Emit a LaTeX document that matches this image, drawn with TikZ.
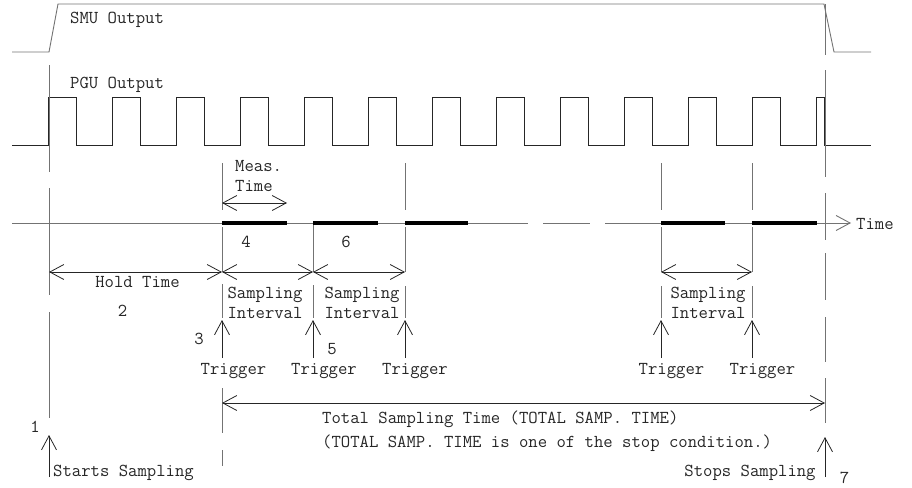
\documentclass[tikz,border=0pt]{standalone}
\usepackage{fontspec}
\usetikzlibrary{arrows.meta}
\begin{document}
\begin{tikzpicture}[x=1pt,y=-1pt,
  lbl/.style={font=\ttfamily\fontsize{18.2}{20}\selectfont, inner sep=0pt, text=black!85},
  wave/.style={line width=0.9pt, black!85},
  grayline/.style={line width=0.9pt, black!55},
  arr/.style={line width=0.8pt, black!85, -{Straight Barb[length=14pt,width=15pt]}},
  darr/.style={line width=0.8pt, black!85, {Straight Barb[length=14pt,width=15pt]}-{Straight Barb[length=14pt,width=15pt]}},
  measbar/.style={line width=4pt, black, line cap=butt},
]
\useasboundingbox (0,0) rectangle (912,487);

% SMU output
\draw[grayline] (12,52) -- (49,52) -- (58,4) -- (824,4) -- (834,52) -- (871,52);
\node[lbl,anchor=base west] (smu) at (70,24) {SMU Output};

% PGU output
\draw[wave] (12,145) foreach \k in {0,...,11} { -- ({48.7+64*\k},145) -- ({48.7+64*\k},97) -- ({76.7+64*\k},97) -- ({76.7+64*\k},145) } -- (816.5,145) -- (816.5,97) -- (824.5,97) -- (824.5,145) -- (871,145);
\node[lbl,anchor=base west] (pgu) at (70,88) {PGU Output};

% start line (x=49)
\foreach \a/\b in {65/172,188/295,312/418} \draw[grayline] (49,\a) -- (49,\b);
% stop line (x=825)
\foreach \a/\b in {4/55,70/177,193/240,253/300,317/362,378/423} \draw[grayline] (825,\a) -- (825,\b);

% line x=222
\foreach \a/\b in {163/210,227/272,284/318,388/433,450/466} \draw[grayline] (222,\a) -- (222,\b);
% line x=313
\foreach \a/\b in {223/272,285/318} \draw[grayline] (313,\a) -- (313,\b);
% lines x=405, 661, 752
\foreach \xx in {405,661,752}
  \foreach \a/\b in {163/210,227/272,286/318} \draw[grayline] (\xx,\a) -- (\xx,\b);

% time axis
\draw[grayline] (12,223) -- (468,223);
\foreach \a/\b in {468/528,543/590,605/660} \draw[grayline] (\a,223) -- (\b,223);
\draw[grayline,-{Straight Barb[length=14pt,width=15pt]}] (660,223) -- (851,223);
\node[lbl,anchor=base west] (time) at (856,229) {Time};

% measurement bars
\foreach \a/\b in {222/287,313/378,405/468,661/725,752/817} \draw[measbar] (\a,223) -- (\b,223);

% dimension arrows
\draw[darr] (222,203) -- (287,203);
\node[lbl,anchor=base west] (meas1) at (235,171) {Meas.};
\node[lbl,anchor=base west] (meas2) at (235,191) {Time};
\node[lbl,anchor=base] (n4) at (246,247) {4};
\node[lbl,anchor=base] (n6) at (346,247) {6};

\draw[darr] (49,272) -- (222,272);
\draw[darr] (222,272) -- (313,272);
\draw[darr] (313,272) -- (405,272);
\draw[darr] (661,272) -- (752,272);
\node[lbl,anchor=base] (hold) at (137.5,287) {Hold Time};
\node[lbl,anchor=base] (n2) at (122.5,316) {2};
\foreach \xx/\nm in {265/a,362/b,708/c} {
  \node[lbl,anchor=base] (si1\nm) at (\xx,298) {Sampling};
  \node[lbl,anchor=base] (si2\nm) at (\xx,318) {Interval};
}

% trigger arrows
\foreach \xx in {222,313,405,661,752} \draw[arr] (\xx,358) -- (\xx,320);
\foreach \xx/\nm in {233.5/a,324/b,415/c,671.5/d,762.5/e}
  \node[lbl,anchor=base] (trig\nm) at (\xx,374) {Trigger};
\node[lbl,anchor=base] (n3) at (199,344) {3};
\node[lbl,anchor=base] (n5) at (332,354) {5};

% total sampling time
\draw[darr] (222,403) -- (825,403);
\node[lbl,anchor=base west] (tot1) at (322,423) {Total Sampling Time (TOTAL SAMP. TIME)};
\node[lbl,anchor=base west] (tot2) at (322,447) {(TOTAL SAMP. TIME is one of the stop condition.)};

% start / stop
\draw[arr] (49,477) -- (49,435);
\draw[arr] (825,477) -- (825,437);
\node[lbl,anchor=base] (n1) at (35,432) {1};
\node[lbl,anchor=base west] (start) at (53,476) {Starts Sampling};
\node[lbl,anchor=base] (stop) at (750,476) {Stops Sampling};
\node[lbl,anchor=base] (n7) at (844.5,483) {7};
\end{tikzpicture}
\end{document}
